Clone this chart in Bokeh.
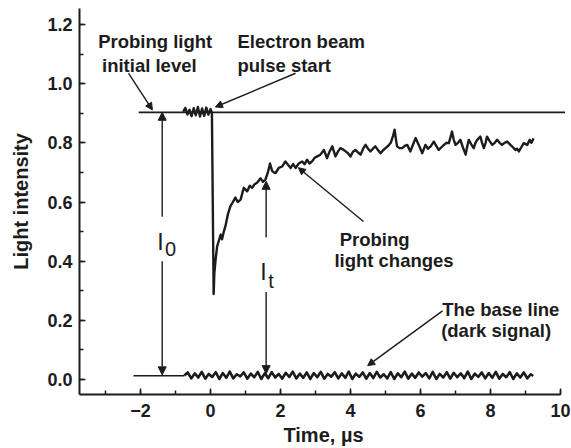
from bokeh.plotting import figure
from bokeh.models import (Range1d, SingleIntervalTicker, Arrow, NormalHead, Label,
                          CustomJSTickFormatter)
from bokeh.embed import file_html
from bokeh.resources import INLINE

INK = "#1c1c1c"
FONT = "Liberation Sans"

# Probing light transient (time in microseconds, relative light intensity)
signal_t = [-0.78, -0.72, -0.66, -0.60, -0.54, -0.48, -0.42, -0.36, -0.30, -0.24,
            -0.18, -0.12, -0.06, 0.00, 0.04, 0.09, 0.11, 0.15, 0.19, 0.24,
            0.29, 0.33, 0.38, 0.43, 0.50, 0.57, 0.64, 0.71, 0.78, 0.86,
            0.95, 1.05, 1.12, 1.19, 1.26, 1.33, 1.43, 1.50, 1.57, 1.64,
            1.70, 1.76, 1.81, 1.86, 1.95, 2.05, 2.14, 2.22, 2.29, 2.36,
            2.43, 2.52, 2.62, 2.69, 2.76, 2.83, 2.90, 2.98, 3.05, 3.14,
            3.24, 3.33, 3.40, 3.48, 3.57, 3.64, 3.71, 3.78, 3.86, 3.93,
            4.00, 4.07, 4.14, 4.21, 4.29, 4.36, 4.43, 4.50, 4.57, 4.64,
            4.71, 4.79, 4.86, 4.93, 5.00, 5.08, 5.15, 5.22, 5.26, 5.30,
            5.33, 5.40, 5.48, 5.55, 5.62, 5.71, 5.79, 5.86, 5.95, 6.05,
            6.14, 6.21, 6.29, 6.38, 6.45, 6.52, 6.60, 6.67, 6.74, 6.81,
            6.86, 6.90, 6.95, 7.00, 7.07, 7.14, 7.21, 7.29, 7.33, 7.38,
            7.45, 7.52, 7.57, 7.62, 7.71, 7.76, 7.81, 7.86, 7.90, 7.98,
            8.05, 8.12, 8.19, 8.26, 8.33, 8.40, 8.48, 8.57, 8.64, 8.71,
            8.76, 8.81, 8.88, 8.95, 9.05, 9.12, 9.17, 9.23]
signal_v = [0.905, 0.918, 0.896, 0.912, 0.890, 0.917, 0.893, 0.921, 0.889, 0.916,
            0.891, 0.919, 0.895, 0.914, 0.902, 0.289, 0.360, 0.410, 0.450, 0.470,
            0.490, 0.474, 0.500, 0.520, 0.560, 0.586, 0.600, 0.615, 0.600, 0.608,
            0.648, 0.636, 0.655, 0.648, 0.660, 0.665, 0.680, 0.668, 0.676, 0.700,
            0.730, 0.705, 0.700, 0.698, 0.715, 0.720, 0.737, 0.725, 0.715, 0.728,
            0.715, 0.730, 0.737, 0.728, 0.743, 0.730, 0.737, 0.750, 0.754, 0.760,
            0.776, 0.748, 0.770, 0.788, 0.754, 0.770, 0.782, 0.778, 0.771, 0.765,
            0.754, 0.770, 0.776, 0.768, 0.760, 0.780, 0.793, 0.780, 0.771, 0.780,
            0.788, 0.775, 0.765, 0.775, 0.782, 0.790, 0.800, 0.825, 0.844, 0.810,
            0.788, 0.782, 0.782, 0.790, 0.793, 0.771, 0.795, 0.816, 0.793, 0.765,
            0.793, 0.780, 0.788, 0.804, 0.790, 0.776, 0.785, 0.793, 0.800, 0.799,
            0.820, 0.838, 0.810, 0.793, 0.800, 0.810, 0.785, 0.760, 0.785, 0.810,
            0.795, 0.782, 0.800, 0.810, 0.821, 0.800, 0.782, 0.800, 0.821, 0.805,
            0.793, 0.800, 0.810, 0.800, 0.793, 0.800, 0.804, 0.793, 0.785, 0.776,
            0.780, 0.771, 0.785, 0.799, 0.793, 0.810, 0.800, 0.815]

# Dark signal (base line) record
base_t = [-0.75, -0.65, -0.55, -0.45, -0.35, -0.25, -0.15, -0.05, 0.05, 0.15,
          0.25, 0.35, 0.45, 0.55, 0.65, 0.75, 0.85, 0.95, 1.05, 1.15,
          1.25, 1.35, 1.45, 1.55, 1.65, 1.75, 1.85, 1.95, 2.05, 2.15,
          2.25, 2.35, 2.45, 2.55, 2.65, 2.75, 2.85, 2.95, 3.05, 3.15,
          3.25, 3.35, 3.45, 3.55, 3.65, 3.75, 3.85, 3.95, 4.05, 4.15,
          4.25, 4.35, 4.45, 4.55, 4.65, 4.75, 4.85, 4.95, 5.05, 5.15,
          5.25, 5.35, 5.45, 5.55, 5.65, 5.75, 5.85, 5.95, 6.05, 6.15,
          6.25, 6.35, 6.45, 6.55, 6.65, 6.75, 6.85, 6.95, 7.05, 7.15,
          7.25, 7.35, 7.45, 7.55, 7.65, 7.75, 7.85, 7.95, 8.05, 8.15,
          8.25, 8.35, 8.45, 8.55, 8.65, 8.75, 8.85, 8.95, 9.05, 9.15,
          9.22]
base_v = [0.014, 0.024, 0.004, 0.021, 0.007, 0.026, 0.003, 0.019, 0.009, 0.025,
          0.002, 0.022, 0.006, 0.027, 0.004, 0.018, 0.011, 0.024, 0.003, 0.020,
          0.008, 0.026, 0.002, 0.021, 0.005, 0.025, 0.007, 0.019, 0.003, 0.023,
          0.009, 0.027, 0.004, 0.020, 0.006, 0.024, 0.002, 0.022, 0.008, 0.026,
          0.003, 0.019, 0.010, 0.025, 0.004, 0.021, 0.006, 0.027, 0.002, 0.020,
          0.009, 0.024, 0.003, 0.022, 0.005, 0.026, 0.007, 0.018, 0.004, 0.025,
          0.002, 0.021, 0.008, 0.027, 0.003, 0.020, 0.006, 0.024, 0.010, 0.022,
          0.004, 0.026, 0.002, 0.019, 0.007, 0.025, 0.003, 0.023, 0.008, 0.021,
          0.005, 0.027, 0.002, 0.020, 0.009, 0.024, 0.004, 0.022, 0.006, 0.026,
          0.003, 0.019, 0.008, 0.025, 0.002, 0.021, 0.007, 0.024, 0.004, 0.018,
          0.012]

# Reference levels
initial_level = 0.903
initial_level_span = [-2.05, 10.13]
dark_level = 0.013
dark_level_span = [-2.2, -0.75]

# Measurement markers: I0 at t0, It at tt
t0 = -1.38
tt = 1.59
It_value = 0.67

p = figure(width=571, height=448,
           x_range=Range1d(-3.743, 10.2), y_range=Range1d(-0.0504, 1.2538),
           output_backend="svg", toolbar_location=None,
           min_border_left=79, min_border_right=4,
           min_border_top=8, min_border_bottom=52)
p.outline_line_color = None
p.background_fill_color = "white"
p.border_fill_color = "white"
p.xgrid.visible = False
p.ygrid.visible = False

p.xaxis.ticker = SingleIntervalTicker(interval=2, num_minor_ticks=2)
p.yaxis.ticker = SingleIntervalTicker(interval=0.2, num_minor_ticks=2)
p.xaxis.bounds = (-3.743, 10)
p.yaxis.formatter = CustomJSTickFormatter(code="return tick.toFixed(1);")

for ax in (p.xaxis[0], p.yaxis[0]):
    ax.axis_line_width = 2
    ax.axis_line_color = INK
    ax.major_tick_in = 6
    ax.major_tick_out = 0
    ax.minor_tick_in = 4
    ax.minor_tick_out = 0
    ax.major_tick_line_width = 1.5
    ax.minor_tick_line_width = 1.5
    ax.major_tick_line_color = INK
    ax.minor_tick_line_color = INK
    ax.major_label_text_font = FONT
    ax.major_label_text_font_style = "bold"
    ax.major_label_text_font_size = "18px"
    ax.major_label_text_color = INK
    ax.axis_label_text_font = FONT
    ax.axis_label_text_font_style = "bold"
    ax.axis_label_text_font_size = "20px"
    ax.axis_label_text_color = INK

p.xaxis.axis_label = "Time, \u00b5s"
p.yaxis.axis_label = "Light intensity"
p.xaxis.major_label_standoff = 9
p.yaxis.major_label_standoff = 7
p.xaxis.axis_label_standoff = 4
p.yaxis.axis_label_standoff = 12

# Reference lines
p.line(initial_level_span, [initial_level, initial_level], line_color=INK, line_width=1.6)
p.line(dark_level_span, [dark_level, dark_level], line_color=INK, line_width=1.6)

# Traces
p.line(base_t, base_v, line_color=INK, line_width=2.6, line_join="round")
p.line(signal_t, signal_v, line_color=INK, line_width=2.4, line_join="round")


def arrow(x0, y0, x1, y1, size=8):
    head = NormalHead(size=size, fill_color=INK, line_color=INK, line_width=1)
    p.add_layout(Arrow(end=head, x_start=x0, y_start=y0, x_end=x1, y_end=y1,
                       line_color=INK, line_width=1.4))


# I0 and It markers
arrow(t0, 0.55, t0, initial_level)
arrow(t0, 0.40, t0, dark_level + 0.003)
arrow(tt, 0.48, tt, It_value)
arrow(tt, 0.296, tt, 0.02)

# Callout pointers
arrow(-2.34, 1.035, -1.66, 0.911, size=7)
arrow(2.43, 1.035, 0.14, 0.921, size=7)
arrow(4.37, 0.534, 2.51, 0.716, size=7)
arrow(6.63, 0.232, 4.49, 0.047, size=7)


def note(x, y, s):
    p.add_layout(Label(x=x, y=y, text=s, text_font=FONT, text_font_style="bold",
                       text_font_size="18.5px", text_color=INK,
                       text_align="left", text_baseline="alphabetic"))


note(-3.21, 1.141, "Probing light")
note(-3.10, 1.060, "initial level")
note(0.77, 1.141, "Electron beam")
note(0.77, 1.060, "pulse start")
note(3.69, 0.474, "Probing")
note(3.54, 0.401, "light changes")
note(6.62, 0.236, "The base line")
note(6.59, 0.166, "(dark signal)")


def sym(x, y, s, size):
    p.add_layout(Label(x=x, y=y, text=s, text_font=FONT, text_font_style="normal",
                       text_font_size=size, text_color=INK,
                       text_align="center", text_baseline="alphabetic"))


sym(-1.43, 0.464, "I", "23px")
sym(-1.14, 0.440, "0", "20px")
sym(1.51, 0.363, "I", "23px")
sym(1.73, 0.333, "t", "20px")

open("out.html", "w").write(file_html(p, INLINE))
